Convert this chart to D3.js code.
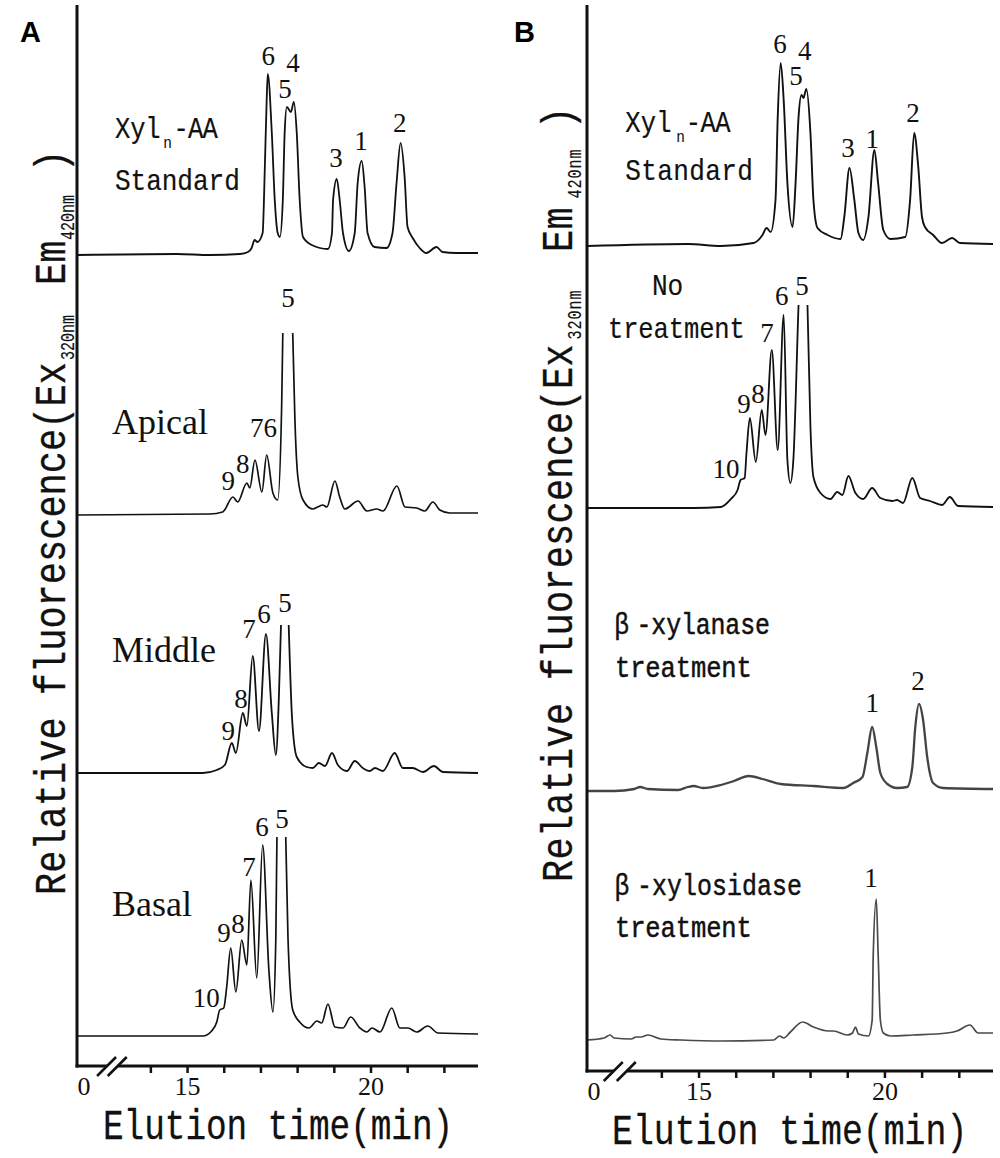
<!DOCTYPE html>
<html><head><meta charset="utf-8">
<script src="https://cdn.jsdelivr.net/npm/d3@7"></script>
<style>body{margin:0;background:#fff} svg{display:block}</style>
</head><body>
<svg id="c" width="1000" height="1158"></svg>
<script>
// ---------- DATA (elution time in min, relative fluorescence above baseline) ----------
const timeTicks = [14, 15, 16, 17, 18, 19, 20, 21, 22];
const tickLabelText = { 15: "15", 20: "20" };
const originLabel = "0";
const sampleNamesA = ["Apical", "Middle", "Basal"];

const aStandard = [[12.0,0],[14.72,1],[15.62,0],[16.44,1],[16.66,3],[16.76,7],[16.84,15],[16.92,13],[17.06,22],[17.12,88],[17.17,155],[17.20,181],[17.31,122],[17.39,55],[17.47,22],[17.53,18],[17.61,55],[17.66,122],[17.72,148],[17.83,143],[17.91,153],[17.99,122],[18.07,55],[18.16,18],[18.40,10],[18.84,6],[18.95,22],[18.98,55],[19.08,76],[19.16,55],[19.25,22],[19.41,4],[19.57,22],[19.65,72],[19.76,94],[19.84,68],[19.92,22],[20.11,8],[20.44,7],[20.60,22],[20.71,72],[20.82,112],[20.93,78],[21.01,28],[21.15,17],[21.34,7],[21.52,2],[21.80,8],[21.96,3],[22.34,2],[22.93,2]];
const aApical = [[12.0,0],[15.62,1],[15.97,3],[16.25,18],[16.38,13],[16.63,32],[16.71,27],[16.85,55],[17.04,23],[17.17,60],[17.34,22],[17.47,15],[17.58,112],[17.61,182],[17.68,240],[17.75,255],[17.82,240],[17.88,182],[17.94,95],[18.02,38],[18.16,15],[18.43,6],[18.56,8],[18.70,10],[18.81,8],[19.03,34],[19.16,18],[19.30,6],[19.66,14],[19.90,4],[20.17,6],[20.34,4],[20.72,29],[20.94,8],[21.26,7],[21.48,4],[21.70,13],[21.89,5],[22.16,2],[22.93,2]];
const aMiddle = [[12.0,0],[15.43,0],[15.81,3],[16.03,8],[16.22,30],[16.33,20],[16.52,60],[16.63,47],[16.79,117],[16.96,42],[17.15,139],[17.31,60],[17.42,18],[17.50,73],[17.56,148],[17.61,210],[17.66,235],[17.72,210],[17.77,148],[17.86,56],[17.99,16],[18.26,6],[18.43,5],[18.59,10],[18.76,7],[18.95,20],[19.11,8],[19.36,2],[19.57,12],[19.79,5],[19.98,2],[20.12,5],[20.34,2],[20.66,20],[20.88,5],[21.15,5],[21.43,1],[21.73,7],[21.97,1],[22.93,0]];
const aBasal = [[12.0,0],[15.43,0],[15.67,5],[15.81,14],[15.89,26],[16.00,28],[16.08,49],[16.19,88],[16.33,44],[16.49,96],[16.63,71],[16.74,156],[16.90,58],[17.06,191],[17.23,66],[17.34,24],[17.42,99],[17.45,199],[17.51,255],[17.57,270],[17.63,255],[17.69,199],[17.75,99],[17.88,26],[18.07,14],[18.32,8],[18.54,15],[18.67,13],[18.84,32],[19.03,9],[19.25,8],[19.46,19],[19.71,8],[19.90,4],[20.04,8],[20.26,4],[20.58,28],[20.80,8],[21.02,8],[21.26,4],[21.56,10],[21.84,3],[22.93,2]];
const bStandard = [[12.0,0],[14.71,2],[15.60,0],[16.48,3],[16.72,11],[16.83,18],[16.94,14],[17.07,46],[17.13,129],[17.21,183],[17.29,146],[17.39,63],[17.53,19],[17.61,63],[17.69,129],[17.77,151],[17.82,148],[17.90,157],[18.01,113],[18.09,46],[18.20,18],[18.47,11],[18.82,7],[18.92,29],[19.06,78],[19.19,46],[19.30,13],[19.43,6],[19.57,29],[19.73,96],[19.83,63],[19.97,16],[20.16,7],[20.56,9],[20.69,46],[20.80,113],[20.91,79],[21.01,29],[21.09,19],[21.31,11],[21.55,3],[21.82,8],[22.03,3],[22.92,2]];
const bNoTreatment = [[12.0,0],[14.87,0],[15.60,1],[15.87,9],[16.05,18],[16.13,28],[16.24,30],[16.29,55],[16.38,90],[16.54,46],[16.70,98],[16.80,73],[16.97,158],[17.13,58],[17.29,193],[17.39,48],[17.47,25],[17.55,48],[17.69,203],[17.75,260],[17.81,280],[17.87,260],[17.93,203],[18.01,81],[18.09,31],[18.28,15],[18.55,9],[18.73,16],[18.87,13],[19.03,32],[19.22,15],[19.43,9],[19.67,20],[19.89,10],[20.21,7],[20.34,8],[20.50,5],[20.75,30],[20.96,10],[21.23,7],[21.55,3],[21.76,11],[21.98,2],[22.92,1]];
const bXylanase = [[12.0,0],[12.73,0],[13.27,2],[13.43,4],[13.64,2],[14.45,1],[14.71,4],[14.87,5],[15.12,3],[15.60,6],[15.95,10],[16.35,15],[16.72,12],[17.21,7],[18.09,5],[18.90,3],[19.16,8],[19.41,14],[19.54,38],[19.67,64],[19.78,44],[19.89,18],[20.08,7],[20.34,3],[20.61,4],[20.75,24],[20.83,64],[20.93,87],[21.04,71],[21.15,34],[21.31,8],[21.58,3],[22.92,2]];
const bXylosidase = [[12.0,0],[12.46,2],[12.62,5],[12.73,2],[13.19,1],[13.32,3],[13.45,3],[13.64,5],[13.99,1],[14.53,0],[15.60,-1],[17.02,0],[17.18,4],[17.29,2],[17.47,8],[17.80,18],[18.09,13],[18.49,9],[18.63,9],[19.00,5],[19.14,7],[19.22,13],[19.30,6],[19.57,4],[19.67,20],[19.70,87],[19.78,141],[19.83,87],[19.89,20],[19.97,7],[20.16,4],[20.77,5],[21.68,7],[21.95,9],[22.30,15],[22.52,7],[22.92,7]];

// peak annotations: [label, time, height]
const aStandardPeaks = [["6",17.21,190],["5",17.67,157],["4",17.89,183],["3",19.06,88],["1",19.74,105],["2",20.80,123]];
const aApicalPeaks = [["5",17.75,208],["76",17.08,78],["8",16.52,42],["9",16.12,25]];
const aMiddlePeaks = [["5",17.67,161],["6",17.10,150],["7",16.69,135],["8",16.47,65],["9",16.12,33]];
const aBasalPeaks = [["10",15.52,29],["9",16.01,94],["8",16.39,103],["7",16.69,160],["6",17.04,200],["5",17.59,208]];
const bStandardPeaks = [["6",17.19,193],["5",17.62,161],["4",17.86,186],["3",19.02,89],["1",19.67,98],["2",20.77,124]];
const bNoTreatmentPeaks = [["10",15.74,30],["9",16.22,95],["8",16.60,105],["7",16.84,166],["6",17.24,203],["5",17.78,213]];
const bXylanasePeaks = [["1",19.67,79],["2",20.90,101]];
const bXylosidasePeaks = [["1",19.64,153]];

// ---------- LAYOUT ----------
const svg = d3.select("#c");
const xA = d3.scaleLinear().domain([12, 22.93]).range([77, 478]);
const xB = d3.scaleLinear().domain([12, 22.92]).range([587, 993]);
const serif = "'Liberation Serif', 'Times New Roman', serif";
const monoFont = "'Liberation Mono', 'Courier New', monospace";

const traces = [
  {data: aStandard, peaks: aStandardPeaks, x: xA, base: 255, clip: null, color: "#111", w: 1.8},
  {data: aApical, peaks: aApicalPeaks, x: xA, base: 515, clip: 182, color: "#111", w: 1.7},
  {data: aMiddle, peaks: aMiddlePeaks, x: xA, base: 773, clip: 148, color: "#111", w: 1.8},
  {data: aBasal, peaks: aBasalPeaks, x: xA, base: 1036, clip: 199, color: "#111", w: 1.7},
  {data: bStandard, peaks: bStandardPeaks, x: xB, base: 246, clip: null, color: "#111", w: 1.9},
  {data: bNoTreatment, peaks: bNoTreatmentPeaks, x: xB, base: 508, clip: 203, color: "#111", w: 1.8},
  {data: bXylanase, peaks: bXylanasePeaks, x: xB, base: 791, clip: null, color: "#444", w: 2.3},
  {data: bXylosidase, peaks: bXylosidasePeaks, x: xB, base: 1040, clip: null, color: "#4a4a4a", w: 1.7}
];

const defs = svg.append("defs");
traces.forEach((tr, i) => {
  const y = d3.scaleLinear().domain([0, 100]).range([tr.base, tr.base - 100]);
  const g = svg.append("g");
  if (tr.clip != null) {
    defs.append("clipPath").attr("id", "clip" + i).append("rect")
      .attr("x", tr.x.range()[0]).attr("width", tr.x.range()[1] - tr.x.range()[0])
      .attr("y", y(tr.clip)).attr("height", 1158 - y(tr.clip));
    g.attr("clip-path", `url(#clip${i})`);
  }
  const line = d3.line().x(d => tr.x(d[0])).y(d => y(d[1])).curve(d3.curveMonotoneX);
  g.append("path").attr("d", line(tr.data)).attr("fill", "none")
    .attr("stroke", tr.color).attr("stroke-width", tr.w).attr("stroke-linejoin", "round");
  svg.append("g").selectAll("text").data(tr.peaks).join("text")
    .attr("x", d => tr.x(d[1])).attr("y", d => y(d[2]))
    .attr("text-anchor", "middle").attr("font-family", serif).attr("font-size", 27)
    .attr("fill", "#111").text(d => d[0]);
});

// monospace text (SimSun-like) : each char centred in a fixed cell
function mono(str, x0, yb, cell, size, sx, rot, weightStroke) {
  const chars = Array.from(str);
  let acc = 0; const xs = [];
  chars.forEach(c => { const w = (c === "β" ? 2 : 1) * cell; xs.push(((acc + w / 2) / sx).toFixed(2)); acc += w; });
  const t = svg.append("text")
    .attr("transform", `translate(${x0},${yb})${rot ? " rotate(-90)" : ""} scale(${sx},1)`)
    .attr("font-family", monoFont).attr("font-size", size).attr("text-anchor", "middle")
    .attr("fill", "#111").attr("x", xs.join(" ")).attr("y", 0).text(str);
  if (weightStroke) t.attr("stroke", "#111").attr("stroke-width", weightStroke);
  return t;
}

// axes
function drawAxes(x, yAxis, brk, top, labY) {
  const g = svg.append("g").attr("transform", `translate(0,${yAxis})`);
  const ax = d3.axisBottom(x).tickValues(timeTicks).tickSize(7).tickFormat(d => tickLabelText[d] || "");
  g.call(ax);
  g.select(".domain").remove();
  g.selectAll(".tick line").attr("stroke", "#111").attr("stroke-width", 2.5);
  g.selectAll(".tick text").attr("font-family", serif).attr("font-size", 26).attr("fill", "#111")
    .attr("y", labY).attr("dy", null);
  g.append("text").attr("x", x(12) + 7).attr("y", labY).attr("text-anchor", "middle")
    .attr("font-family", serif).attr("font-size", 26).attr("fill", "#111").text(originLabel);
  const x0 = x.range()[0], x1 = x.range()[1];
  g.append("line").attr("x1", x0 - 1.5).attr("x2", x(brk[0])).attr("y1", 0).attr("y2", 0).attr("stroke", "#111").attr("stroke-width", 3);
  g.append("line").attr("x1", x(brk[1])).attr("x2", x1).attr("y1", 0).attr("y2", 0).attr("stroke", "#111").attr("stroke-width", 3);
  brk.forEach(b => g.append("line").attr("x1", x(b) - 10).attr("y1", 10).attr("x2", x(b) + 9).attr("y2", -9)
    .attr("stroke", "#111").attr("stroke-width", 2.5));
  svg.append("line").attr("x1", x0).attr("x2", x0).attr("y1", top).attr("y2", yAxis + 1.5).attr("stroke", "#111").attr("stroke-width", 3);
}
drawAxes(xA, 1066, [12.82, 13.11], 5, 29);
drawAxes(xB, 1071, [12.72, 13.07], 5, 29);

// axis titles
mono("Elution time(min)", 103, 1139, 20.6, 43, 0.8, false, 0.3);
mono("Elution time(min)", 612, 1144, 20.9, 43, 0.81, false, 0.3);

function yLabel(xb, yStart, o) {
  mono("Relative fluorescence(Ex", xb, yStart, o.cell, 44, 0.84, true, 0.3);
  mono("320nm", xb + 9, yStart - o.s1, o.sub, 21, 0.72, true, 0.15);
  mono("Em", xb, yStart - o.em, o.cell, 44, 0.84, true, 0.3);
  mono("420nm", xb + 9, yStart - o.s2, o.sub, 21, 0.72, true, 0.15);
  mono(")", xb, yStart - o.par, 24, 44, 0.84, true, 0.3);
}
yLabel(65, 895, {cell: 22.2, sub: 9, s1: 535, em: 610, s2: 655, par: 722});
yLabel(572, 882, {cell: 22.4, sub: 10, s1: 542, em: 630, s2: 683, par: 752});

// sample labels
function xylLabel(x0, yb, cellA, cellB, nx, ax0) {
  mono("Xyl", x0, yb, cellA, 30, 0.85, false, 0.2);
  mono("n", nx, yb + 10, 9, 17, 0.85, false, 0.1);
  mono("-AA", ax0, yb, cellB, 30, 0.85, false, 0.2);
}
xylLabel(115, 138, 15.2, 14.5, 163, 174);
mono("Standard", 115, 190, 15.6, 30, 0.87, false, 0.2);
xylLabel(625, 132, 15.6, 14.8, 676, 686);
mono("Standard", 625, 180, 16, 30, 0.87, false, 0.2);
mono("No", 652, 295, 15.5, 30, 0.87, false, 0.2);
mono("treatment", 608, 338, 15.2, 30, 0.85, false, 0.2);
mono("β-xylanase", 607, 634, 14.8, 30, 0.83, false, 0.5);
mono("treatment", 615, 677, 15.2, 30, 0.85, false, 0.5);
mono("β-xylosidase", 607, 895, 15, 30, 0.83, false, 0.5);
mono("treatment", 615, 937, 15.2, 30, 0.85, false, 0.5);

[434, 662, 916].forEach((yb, i) => svg.append("text").attr("x", 112).attr("y", yb)
  .attr("font-family", serif).attr("font-size", 36).attr("fill", "#111").text(sampleNamesA[i]));

// panel letters
svg.append("text").attr("x", 20).attr("y", 42).attr("font-family", "'Liberation Sans', Arial, sans-serif")
  .attr("font-weight", "bold").attr("font-size", 29).text("A");
svg.append("text").attr("x", 514).attr("y", 42).attr("font-family", "'Liberation Sans', Arial, sans-serif")
  .attr("font-weight", "bold").attr("font-size", 29).text("B");
</script>
</body></html>
